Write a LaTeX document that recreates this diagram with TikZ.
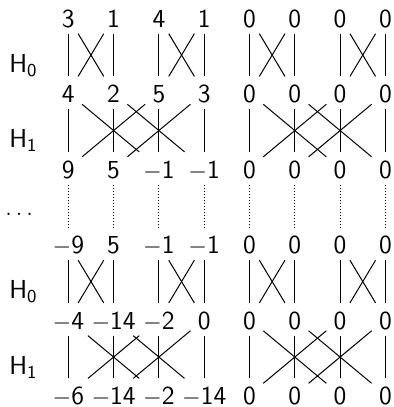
\documentclass[tikz,border=0pt]{standalone}
\newcommand\mn{$-$}
\begin{document}
\begin{tikzpicture}[x=0.5pt,y=-0.5pt,
  entry/.style={anchor=base, inner xsep=3.5pt, inner ysep=3pt,
    text height=10pt, text depth=0pt,
    font=\sffamily\fontsize{13}{15}\selectfont},
  steplabel/.style={anchor=base west, inner sep=0pt,
    font=\sffamily\fontsize{13}{15}\selectfont},
  link/.style={draw, line width=0.5pt},
  dotlink/.style={draw, line width=0.5pt, densely dotted}]
\useasboundingbox (0,0) rectangle (394,407);

% the six rows of values
\foreach \vals [count=\r] in {{3,1,4,1,0,0,0,0},{4,2,5,3,0,0,0,0},{9,5,\mn1,\mn1,0,0,0,0},{\mn9,5,\mn1,\mn1,0,0,0,0},{\mn4,\mn14,\mn2,0,0,0,0,0},{\mn6,\mn14,\mn2,\mn14,0,0,0,0}} {
  \foreach \v [count=\c] in \vals {
    \node[entry] (n-\r-\c) at ({68.3+45.3*(\c-1)},{27.3+75.5*(\r-1)}) {\v};
  }
}

% step labels
\node[steplabel] (h0a) at (9,72.3) {H\textsubscript{0}};
\node[steplabel] (h1a) at (9,147.8) {H\textsubscript{1}};
\node[steplabel] (dots) at (5,215) {$\ldots$};
\node[steplabel] (h0b) at (9,298.8) {H\textsubscript{0}};
\node[steplabel] (h1b) at (9,374.3) {H\textsubscript{1}};

% H0 steps: butterflies on neighbouring pairs
\foreach \ra/\rb in {1/2,4/5} {
  \foreach \ca in {1,3,5,7} {
    \pgfmathtruncatemacro\cb{\ca+1}
    \draw[link] (n-\ra-\ca) -- (n-\rb-\ca);
    \draw[link] (n-\ra-\cb) -- (n-\rb-\cb);
    \draw[link] (n-\ra-\ca) -- (n-\rb-\cb);
    \draw[link] (n-\ra-\cb) -- (n-\rb-\ca);
  }
}

% H1 steps: butterflies at distance two inside each group of four
\foreach \ra/\rb in {2/3,5/6} {
  \foreach \ca in {1,...,8} {
    \draw[link] (n-\ra-\ca) -- (n-\rb-\ca);
  }
  \foreach \ca in {1,2,5,6} {
    \pgfmathtruncatemacro\cb{\ca+2}
    \draw[link] (n-\ra-\ca) -- (n-\rb-\cb);
    \draw[link] (n-\ra-\cb) -- (n-\rb-\ca);
  }
}

% elided steps
\foreach \ca in {1,...,8} {
  \draw[dotlink] (n-3-\ca) -- (n-4-\ca);
}
\end{tikzpicture}
\end{document}
